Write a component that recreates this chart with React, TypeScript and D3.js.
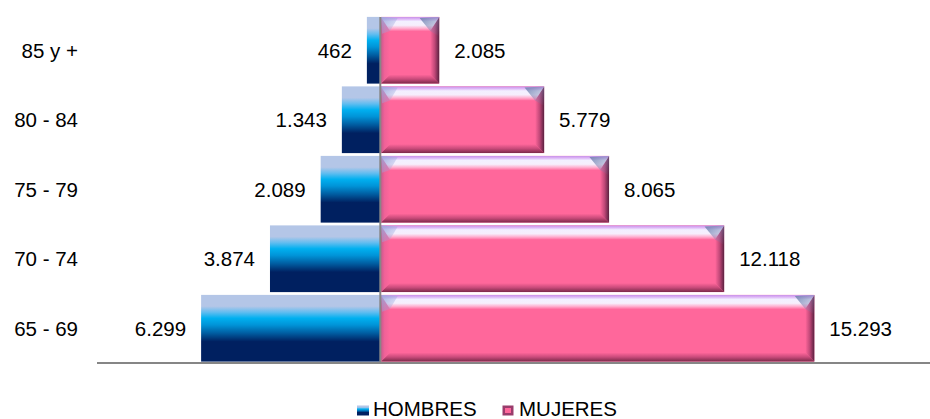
import React from "react";
import * as d3 from "d3";

const categories = ["85 y +", "80 - 84", "75 - 79", "70 - 74", "65 - 69"];
const hombres = [462, 1343, 2089, 3874, 6299];
const mujeres = [2085, 5779, 8065, 12118, 15293];
const hombresLabels = ["462", "1.343", "2.089", "3.874", "6.299"];
const mujeresLabels = ["2.085", "5.779", "8.065", "12.118", "15.293"];
const seriesNames = ["HOMBRES", "MUJERES"];

const W = 930;
const H = 419;
const CX = 380;
const FONT = "'Liberation Sans', Arial, Helvetica, sans-serif";

export default function App() {
  const x = d3.scaleLinear().domain([-16000, 16000]).range([CX - 454.4, CX + 454.4]);
  const y = d3.scaleBand<string>().domain(categories).range([15.5, 363]).paddingInner(0.04).paddingOuter(0.02);
  const bh = y.bandwidth();
  const fs = 20.5;
  const capHalf = fs * 0.716 / 2;

  return (
    <svg width={W} height={H} style={{ position: "fixed", left: 0, top: 0, background: "#fff" }}>
      <defs>
        <linearGradient id="menGrad" x1="0" y1="0" x2="0" y2="1">
          <stop offset="0" stopColor="#b4c6e7" />
          <stop offset="0.17" stopColor="#b4c6e7" />
          <stop offset="0.26" stopColor="#62bdf0" />
          <stop offset="0.35" stopColor="#00b0f0" />
          <stop offset="0.45" stopColor="#0094d8" />
          <stop offset="0.58" stopColor="#005a9e" />
          <stop offset="0.7" stopColor="#002060" />
          <stop offset="1" stopColor="#002060" />
        </linearGradient>
        <linearGradient id="topBev" x1="0" y1="0" x2="0" y2="1">
          <stop offset="0" stopColor="#c88ee8" />
          <stop offset="0.15" stopColor="#dcb4f6" />
          <stop offset="0.32" stopColor="#f2f0ff" />
          <stop offset="0.6" stopColor="#f6eefc" />
          <stop offset="0.82" stopColor="#ffb0d0" />
          <stop offset="1" stopColor="#ff72a3" />
        </linearGradient>
        <linearGradient id="leftBev" x1="0" y1="0" x2="1" y2="0">
          <stop offset="0" stopColor="#c85a8c" />
          <stop offset="0.4" stopColor="#f06298" />
          <stop offset="1" stopColor="#ff679b" />
        </linearGradient>
        <linearGradient id="rightBev" x1="0" y1="0" x2="1" y2="0">
          <stop offset="0" stopColor="#ff679b" />
          <stop offset="0.5" stopColor="#c04878" />
          <stop offset="1" stopColor="#5a2040" />
        </linearGradient>
        <linearGradient id="botBev" x1="0" y1="0" x2="0" y2="1">
          <stop offset="0" stopColor="#ff679b" />
          <stop offset="0.5" stopColor="#c84a7a" />
          <stop offset="1" stopColor="#7a2848" />
        </linearGradient>
        <linearGradient id="cornerTR" x1="0" y1="0" x2="1" y2="1">
          <stop offset="0" stopColor="#6f82b0" stopOpacity="0.9" />
          <stop offset="1" stopColor="#6f82b0" stopOpacity="0" />
        </linearGradient>
        <linearGradient id="cornerTL" x1="0" y1="0" x2="1" y2="1">
          <stop offset="0" stopColor="#9aa8dc" stopOpacity="0.9" />
          <stop offset="1" stopColor="#9aa8dc" stopOpacity="0" />
        </linearGradient>
      </defs>

      {categories.map((c, i) => {
        const y0 = y(c)!;
        const y1 = y0 + bh;
        const cy = y0 + bh / 2;
        const mx0 = x(-hombres[i]);
        const wx0 = CX + 1;
        const wx1 = x(mujeres[i]);
        const b = Math.min(14, (wx1 - wx0) / 3);
        const bs = Math.min(9, b);
        return (
          <g key={c}>
            <rect x={mx0} y={y0} width={CX - mx0} height={bh} fill="url(#menGrad)" />
            <rect x={wx0} y={y0} width={wx1 - wx0} height={bh} fill="#ff679b" />
            <polygon
              points={`${wx0},${y1} ${wx1},${y1} ${wx1 - bs},${y1 - bs} ${wx0 + bs},${y1 - bs}`}
              fill="url(#botBev)"
            />
            <polygon
              points={`${wx0},${y0} ${wx0 + bs},${y0 + b} ${wx0 + bs},${y1 - bs} ${wx0},${y1}`}
              fill="url(#leftBev)"
            />
            <polygon
              points={`${wx1},${y0} ${wx1},${y1} ${wx1 - bs},${y1 - bs} ${wx1 - bs},${y0 + b}`}
              fill="url(#rightBev)"
            />
            <polygon
              points={`${wx0},${y0} ${wx1},${y0} ${wx1 - bs},${y0 + b} ${wx0 + bs},${y0 + b}`}
              fill="url(#topBev)"
            />
            <polygon
              points={`${wx1 - b * 1.4},${y0 + 1} ${wx1},${y0} ${wx1},${y0 + b * 1.4} ${wx1 - bs},${y0 + b}`}
              fill="url(#cornerTR)"
            />
            <polygon
              points={`${wx0},${y0} ${wx0 + b * 1.2},${y0 + 1} ${wx0 + bs},${y0 + b} ${wx0 + 1},${y0 + b * 1.2}`}
              fill="url(#cornerTL)"
            />
            <text
              x={mx0 - 15}
              y={cy + capHalf}
              textAnchor="end"
              fontFamily={FONT}
              fontSize={fs}
              fill="#000"
            >
              {hombresLabels[i]}
            </text>
            <text x={wx1 + 15} y={cy + capHalf} textAnchor="start" fontFamily={FONT} fontSize={fs} fill="#000">
              {mujeresLabels[i]}
            </text>
            <text x={78} y={cy + capHalf} textAnchor="end" fontFamily={FONT} fontSize={fs} fill="#000">
              {c}
            </text>
          </g>
        );
      })}

      <line x1={CX + 0.3} x2={CX + 0.3} y1={17} y2={363} stroke="#868686" strokeWidth={2} />
      <line x1={97} x2={W} y1={363} y2={363} stroke="#868686" strokeWidth={2} />

      <g>
        <rect x={357} y={405.5} width={12} height={10} fill="url(#menGrad)" />
        <text x={373} y={415.5} fontFamily={FONT} fontSize={20.5} fill="#000">
          {seriesNames[0]}
        </text>
        <rect x={502.5} y={405.5} width={11} height={10} fill="#9a3c6c" />
        <rect x={505} y={408} width={6} height={5} fill="#ff679b" />
        <text x={519} y={415.5} fontFamily={FONT} fontSize={20.5} fill="#000">
          {seriesNames[1]}
        </text>
      </g>
    </svg>
  );
}
